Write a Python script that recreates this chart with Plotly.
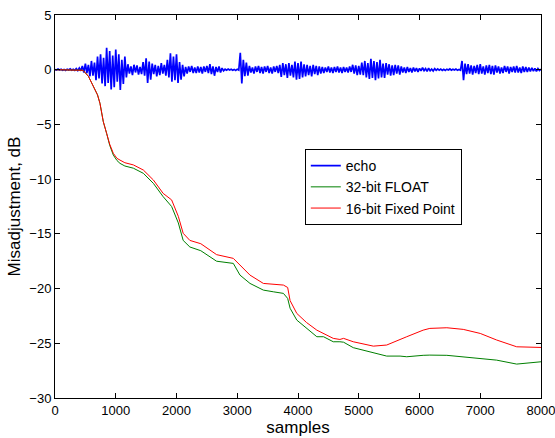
import plotly.graph_objects as go

# sample index for the echo trace (every 25 samples)
echo_x = list(range(0, 8001, 25))
echo = [
    0.02, -0.03, 0.06, -0.02, 0.04, -0.05, 0.03, -0.06, 0.05, -0.03, 0.07, -0.05, 0.04, -0.06, 0.1, -0.08,
    0.15, -0.1, 0.35, -0.25, 0.55, -0.3, 0.45, -0.6, 0.8, -0.55, 0.65, -0.95, 1.2, -0.8, 1.4, -1.25,
    1.1, -1.5, 2.0, -1.2, 1.7, -1.8, 1.3, -1.6, 1.85, -1.1, 1.4, -1.85, 0.9, -1.3, 1.2, -0.7,
    0.5, -0.35, 0.3, -0.5, 0.45, -0.25, 0.4, -0.45, 0.25, -0.4, 0.7, -0.55, 1.05, -1.2, 0.75, -0.9,
    0.55, -0.4, 0.45, -0.6, 0.35, -0.5, 0.6, -0.35, 0.45, -0.55, 0.9, -0.7, 1.5, -1.1, 1.2, -0.95,
    1.4, -1.2, 0.7, -0.9, 0.45, -0.6, 0.25, -0.35, 0.3, -0.2, 0.35, -0.3, 0.2, -0.3, 0.3, -0.25,
    0.25, -0.35, 0.3, -0.2, 0.35, -0.3, 0.5, -0.4, 0.3, -0.55, 0.25, -0.2, 0.3, -0.25, 0.15, -0.1,
    0.05, -0.04, 0.06, -0.03, 0.04, -0.05, 0.03, -0.06, 0.05, -0.03, 1.55, -1.25, 0.9, -0.6, 0.65, -0.55,
    0.35, -0.25, 0.2, -0.35, 0.3, -0.2, 0.35, -0.3, 0.25, -0.35, 0.3, -0.2, 0.35, -0.3, 0.2, -0.35,
    0.3, -0.2, 0.35, -0.3, 0.45, -0.65, 0.6, -0.5, 0.5, -0.75, 0.6, -0.55, 0.45, -0.7, 0.75, -0.9,
    0.6, -0.85, 0.75, -0.7, 0.5, -0.6, 0.45, -0.5, 0.35, -0.6, 0.45, -0.4, 0.35, -0.5, 0.3, -0.35,
    0.25, -0.3, 0.2, -0.2, 0.3, -0.25, 0.2, -0.3, 0.25, -0.2, 0.3, -0.25, 0.2, -0.3, 0.25, -0.2,
    0.2, -0.25, 0.3, -0.2, 0.45, -0.35, 0.4, -0.5, 0.35, -0.45, 0.65, -0.5, 0.8, -0.7, 0.6, -0.85,
    1.0, -0.75, 0.8, -0.95, 0.7, -0.8, 0.9, -0.7, 0.55, -0.75, 0.6, -0.45, 0.5, -0.55, 0.4, -0.5,
    0.45, -0.35, 0.4, -0.45, 0.3, -0.25, 0.2, -0.3, 0.25, -0.2, 0.15, -0.25, 0.2, -0.15, 0.15, -0.2,
    0.12, -0.1, 0.18, -0.08, 0.1, -0.15, 0.14, -0.1, 0.06, -0.12, 0.1, -0.06, 0.08, -0.05, 0.05, -0.07,
    0.04, -0.06, 0.05, -0.03, 0.07, -0.05, 0.04, -0.03, 0.06, -0.04, 0.03, -0.05, 0.8, -0.95, 0.55, -0.4,
    0.5, -0.35, 0.4, -0.45, 0.35, -0.3, 0.45, -0.4, 0.5, -0.35, 0.3, -0.45, 0.4, -0.3, 0.45, -0.4,
    0.35, -0.45, 0.4, -0.25, 0.3, -0.35, 0.2, -0.3, 0.35, -0.2, 0.3, -0.35, 0.25, -0.2, 0.3, -0.25,
    0.35, -0.25, 0.2, -0.3, 0.3, -0.2, 0.25, -0.2, 0.2, -0.15, 0.18, -0.12, 0.12, -0.15, 0.1, -0.08,
    0.05,
]

# misadjustment curves
mis_x = [0, 400, 460, 550, 630, 700, 740, 795, 850, 900, 960, 1020, 1070, 1150, 1290, 1455,
         1620, 1780, 1920, 2030, 2110, 2220, 2400, 2660, 2935, 3045, 3210, 3430, 3600, 3760,
         3830, 3870, 3980, 4140, 4310, 4420, 4580, 4690, 4750, 4910, 5240, 5460, 5680, 5790,
         6060, 6170, 6450, 6720, 7000, 7270, 7600, 8000]
float32 = [0, 0, -0.05, -0.6, -1.55, -2.3, -3.07, -4.75, -5.82, -6.9, -7.8, -8.3, -8.56, -8.8,
           -9.0, -9.47, -10.39, -11.6, -12.5, -14.0, -15.6, -16.2, -16.54, -17.5, -17.7, -18.77,
           -19.53, -20.14, -20.3, -20.44, -20.9, -21.8, -22.88, -23.6, -24.4, -24.4, -24.86,
           -24.86, -24.9, -25.4, -25.84, -26.17, -26.17, -26.23, -26.1, -26.08, -26.1, -26.23,
           -26.38, -26.54, -26.9, -26.69]
fixed16 = [0, 0, -0.05, -0.6, -1.55, -2.3, -3.07, -4.75, -5.82, -6.8, -7.64, -8.1, -8.26, -8.5,
           -8.7, -9.17, -10.08, -11.3, -11.9, -13.4, -14.95, -15.6, -15.9, -16.9, -17.24, -17.85,
           -18.77, -19.53, -19.6, -19.68, -19.9, -21.1, -22.27, -23.1, -23.8, -24.1, -24.55,
           -24.65, -24.55, -24.86, -25.26, -25.16, -24.7, -24.4, -23.8, -23.64, -23.58, -23.73,
           -24.1, -24.7, -25.32, -25.38]

fig = go.Figure()
fig.add_trace(go.Scatter(x=echo_x, y=echo, mode="lines", name="echo",
                         line=dict(color="#0000ff", width=1.7, simplify=False)))
fig.add_trace(go.Scatter(x=mis_x, y=float32, mode="lines", name="32-bit FLOAT",
                         line=dict(color="#007f00", width=1)))
fig.add_trace(go.Scatter(x=mis_x, y=fixed16, mode="lines", name="16-bit Fixed Point",
                         line=dict(color="#ff0000", width=1)))

axis_style = dict(showline=True, linecolor="black", linewidth=1, mirror="ticks",
                  ticks="inside", ticklen=5, tickcolor="black", showgrid=False,
                  zeroline=False, automargin=False, ticklabeloverflow="allow",
                  tickfont=dict(family="Liberation Sans, Arial", size=13, color="black"))

fig.update_layout(
    width=555, height=438,
    margin=dict(l=55, r=14, t=15, b=40),
    plot_bgcolor="white", paper_bgcolor="white",
    font=dict(family="Liberation Sans, Arial", size=14, color="black"),
    xaxis=dict(range=[0, 8000], tickvals=list(range(0, 8001, 1000)),
               title=dict(text="samples", standoff=3), **axis_style),
    yaxis=dict(range=[-30, 5], tickvals=list(range(-30, 6, 5)),
               title=dict(text="Misadjustment, dB", standoff=4), **axis_style),
    legend=dict(x=0.514, y=0.65, xanchor="left", yanchor="top",
                bgcolor="white", bordercolor="black", borderwidth=1,
                font=dict(size=14), tracegroupgap=0),
    showlegend=True,
)

# drop the page's default body margin so the figure sits at the top-left corner
fig.write_html("out.html", config={"displayModeBar": False},
               post_script="document.body.style.margin='0';")
